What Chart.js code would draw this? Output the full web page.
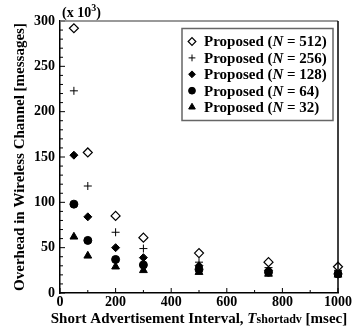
<!DOCTYPE html>
<html>
<head>
<meta charset="utf-8">
<script src="https://cdn.jsdelivr.net/npm/chart.js@4.4.1/dist/chart.umd.min.js"></script>
<style>
  html, body { margin: 0; padding: 0; background: #fff; }
  #wrap { width: 353px; height: 330px; }
</style>
</head>
<body>
<div id="wrap"><canvas id="chart" width="353" height="330"></canvas></div>
<script>
// short advertisement interval [msec]
const intervals = [50, 100, 200, 300, 500, 750, 1000]

// overhead (x 10^3 messages) for each N
const n512 = [292, 155, 85, 61, 44, 34, 29]
const n256 = [223, 118, 67, 49, 34, 28, 25]
const n128 = [152, 84, 50, 39, 30, 25, 22]
const n64 = [98, 58, 37, 31, 26, 23, 21]
const n32 = [62, 41, 29, 25, 23, 21, 20]

const legendNames = ['512', '256', '128', '64', '32']
const xTicks = [0, 200, 400, 600, 800, 1000]
const yTicks = [0, 50, 100, 150, 200, 250, 300]

const serif = '"Liberation Serif", "Times New Roman", serif'
const toPoints = vals => vals.map((v, i) => ({ x: intervals[i], y: v }))

const styles = [
    { pointStyle: 'rectRot', pointRadius: 4.5, backgroundColor: '#fff', borderColor: '#000', borderWidth: 1.2 },
    { pointStyle: 'cross', pointRadius: 4, backgroundColor: '#000', borderColor: '#000', borderWidth: 1 },
    { pointStyle: 'rectRot', pointRadius: 4, backgroundColor: '#000', borderColor: '#000', borderWidth: 1 },
    { pointStyle: 'circle', pointRadius: 4, backgroundColor: '#000', borderColor: '#000', borderWidth: 1 },
    { pointStyle: 'triangle', pointRadius: 4.5, backgroundColor: '#000', borderColor: '#000', borderWidth: 1 },
]
const series = [n512, n256, n128, n64, n32]

const datasets = series.map((s, i) => Object.assign({
    label: 'Proposed (N = ' + legendNames[i] + ')',
    data: toPoints(s),
    showLine: false,
    clip: false,
    pointHoverRadius: styles[i].pointRadius,
}, styles[i]))

// draw inward ticks, frame, legend and extra labels
const decor = {
    id: 'decor',
    afterDraw(chart) {
        const ctx = chart.ctx
        const a = chart.chartArea
        const xs = chart.scales.x
        const ys = chart.scales.y
        ctx.save()
        ctx.strokeStyle = '#000'
        ctx.lineWidth = 1
        ctx.beginPath()
        for (let v = 0; v <= 1000; v += 100) {
            const px = xs.getPixelForValue(v)
            const len = xTicks.includes(v) ? 5 : 3
            ctx.moveTo(px, a.bottom)
            ctx.lineTo(px, a.bottom - len)
        }
        for (let v = 0; v <= 300; v += 10) {
            const py = ys.getPixelForValue(v)
            const len = yTicks.includes(v) ? 5 : 3
            ctx.moveTo(a.left, py)
            ctx.lineTo(a.left + len, py)
        }
        ctx.stroke()

        // top and right frame
        ctx.lineWidth = 1.5
        ctx.strokeStyle = '#777'
        ctx.beginPath()
        ctx.moveTo(a.left, a.top)
        ctx.lineTo(a.right, a.top)
        ctx.stroke()
        ctx.strokeStyle = '#000'
        ctx.beginPath()
        ctx.moveTo(a.right, a.top)
        ctx.lineTo(a.right, a.bottom)
        ctx.stroke()

        // (x 10^3)
        ctx.fillStyle = '#000'
        ctx.textBaseline = 'alphabetic'
        ctx.textAlign = 'left'
        let x = a.left + 2
        ctx.font = 'bold 14px ' + serif
        ctx.fillText('(x 10', x, a.top - 4)
        x += ctx.measureText('(x 10').width
        ctx.font = 'bold 10px ' + serif
        ctx.fillText('3', x, a.top - 10)
        x += ctx.measureText('3').width
        ctx.font = 'bold 14px ' + serif
        ctx.fillText(')', x, a.top - 4)

        // x axis title
        const parts = [
            ['Short Advertisement Interval, ', 'bold 15px ', 0],
            ['T', 'italic bold 15px ', 0],
            ['shortadv', 'bold 12px ', 0],
            [' [msec]', 'bold 15px ', 0],
        ]
        let total = 0
        parts.forEach(p => { ctx.font = p[1] + serif; total += ctx.measureText(p[0]).width })
        x = (a.left + a.right) / 2 - total / 2
        parts.forEach(p => {
            ctx.font = p[1] + serif
            ctx.fillText(p[0], x, 323 + p[2])
            x += ctx.measureText(p[0]).width
        })

        // legend
        ctx.strokeStyle = '#666'
        ctx.lineWidth = 1.5
        ctx.strokeRect(182, 28.5, 151, 92)
        chart.data.datasets.forEach((ds, i) => {
            const cy = 41.5 + i * 16.4
            ctx.fillStyle = ds.backgroundColor
            ctx.strokeStyle = ds.borderColor
            ctx.lineWidth = ds.borderWidth
            Chart.helpers.drawPoint(ctx, { pointStyle: ds.pointStyle, radius: ds.pointRadius * 0.85, borderWidth: ds.borderWidth }, 192, cy)
            ctx.fillStyle = '#000'
            ctx.textBaseline = 'middle'
            let tx = 204
            const bits = [['Proposed (', 'bold 15px '], ['N', 'italic bold 15px '], [' = ' + legendNames[i] + ')', 'bold 15px ']]
            bits.forEach(b => {
                ctx.font = b[1] + serif
                ctx.fillText(b[0], tx, cy + 1)
                tx += ctx.measureText(b[0]).width
            })
        })
        ctx.restore()
    }
}

new Chart(document.getElementById('chart'), {
    type: 'scatter',
    data: { datasets: datasets },
    options: {
        responsive: false,
        animation: false,
        devicePixelRatio: 1,
        layout: { padding: { top: 21, right: 13, left: 0, bottom: 0 } },
        plugins: {
            legend: { display: false },
            tooltip: { enabled: false },
        },
        scales: {
            x: {
                type: 'linear',
                min: 0,
                max: 1000,
                afterBuildTicks: s => { s.ticks = xTicks.map(v => ({ value: v })) },
                ticks: {
                    color: '#000', font: { family: serif, size: 14, weight: 'bold' }, padding: 1, maxRotation: 0, autoSkip: false,
                    callback: v => String(v),
                },
                grid: { display: false, drawTicks: false },
                border: { display: true, color: '#000', width: 1.5 },
                afterFit: s => { s.height = 37 },
            },
            y: {
                type: 'linear',
                min: 0,
                max: 300,
                afterBuildTicks: s => { s.ticks = yTicks.map(v => ({ value: v })) },
                ticks: {
                    color: '#000', font: { family: serif, size: 14, weight: 'bold' }, padding: 5, autoSkip: false,
                    callback: v => String(v),
                },
                grid: { display: false, drawTicks: false },
                border: { display: true, color: '#000', width: 1.5 },
                title: {
                    display: true,
                    text: 'Overhead in Wireless Channel [messages]',
                    color: '#000',
                    font: { family: serif, size: 15, weight: 'bold' },
                    padding: { top: 11, bottom: 0 },
                },
                afterFit: s => { s.width = 60 },
            },
        },
    },
    plugins: [decor],
})
</script>
</body>
</html>
